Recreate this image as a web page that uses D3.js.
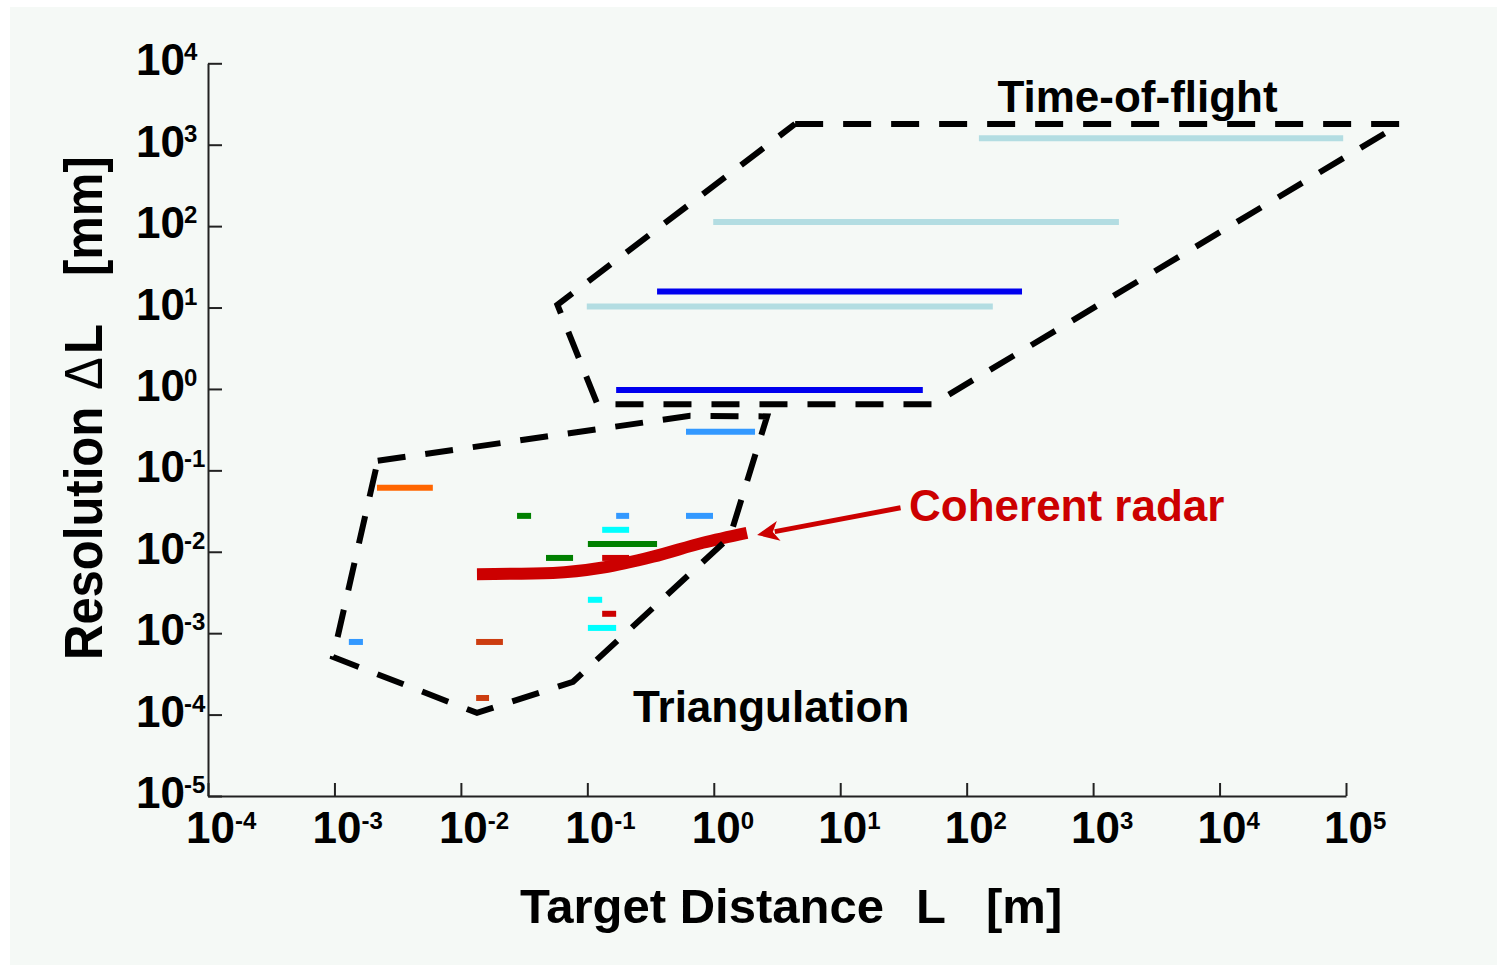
<!DOCTYPE html>
<html>
<head>
<meta charset="utf-8">
<script src="https://cdn.jsdelivr.net/npm/d3@7"></script>
<style>
  body { margin: 0; background: #fff; }
  text { font-family: 'Liberation Sans', Arial, sans-serif; }
</style>
</head>
<body>
<svg id="chart"></svg>
<script>
// Tick exponents (decades)
const xExponents = [-4, -3, -2, -1, 0, 1, 2, 3, 4, 5];
const yExponents = [4, 3, 2, 1, 0, -1, -2, -3, -4, -5];

// Region outlines, [L (m), dL (mm)]
const timeOfFlightRegion = [[4.4, 1800], [2.7e5, 1800], [54, 0.65], [0.12, 0.65], [0.058, 10.8], [4.4, 1800]];
const triangulationRegion = [[2.2e-3, 0.131], [0.65, 0.467], [2.64, 0.46], [1.34, 0.0152], [0.077, 2.53e-4],
  [0.0134, 1.05e-4], [9.75e-4, 5.1e-4], [2.2e-3, 0.131]];

// Measurement ranges, [Lmin, Lmax, dL, group]
const tofRanges = [
  [125, 9.5e4, 1200, 'tofLight'],
  [0.99, 1600, 112, 'tofLight'],
  [0.356, 274, 15.7, 'tofBlue'],
  [0.099, 161, 10.3, 'tofLight'],
  [0.169, 45, 0.97, 'tofBlue'],
];
const triangulationRanges = [
  [0.603, 2.12, 0.297, 'triBlue'],
  [2.17e-3, 6.0e-3, 0.061, 'triOrange'],
  [0.0278, 0.0359, 0.0276, 'triGreen'],
  [0.169, 0.214, 0.0276, 'triBlue'],
  [0.603, 0.986, 0.0276, 'triBlue'],
  [0.131, 0.214, 0.0186, 'triCyan'],
  [0.101, 0.356, 0.0125, 'triGreen'],
  [0.0471, 0.0771, 0.0084, 'triGreen'],
  [0.131, 0.214, 0.0084, 'triRed'],
  [0.101, 0.131, 0.00257, 'triCyan'],
  [0.131, 0.169, 0.00173, 'triRed'],
  [0.101, 0.169, 0.00116, 'triCyan'],
  [1.30e-3, 1.68e-3, 7.8e-4, 'triBlue'],
  [0.0132, 0.0215, 7.8e-4, 'triRust'],
  [0.0132, 0.0167, 1.6e-4, 'triRust'],
];

// Coherent radar curve, [L (m), dL (mm)]
const radarCurve = [[0.0134, 0.0053], [0.0536, 0.0055], [0.133, 0.0064], [0.33, 0.0087], [0.82, 0.0129], [1.83, 0.0171]];

const groups = ['tofLight', 'tofBlue', 'triBlue', 'triOrange', 'triGreen', 'triCyan', 'triRed', 'triRust'];
const groupColors = ['#b3dde2', '#0000ee', '#3399ff', '#ff6600', '#008000', '#00ffff', '#cc0000', '#cc3d10'];

const width = 1507, height = 970;
const color = d3.scaleOrdinal(groups, groupColors);
const x = d3.scaleLog().domain([1e-4, 1e5]).range([208, 1346]);
const y = d3.scaleLog().domain([1e-5, 1e4]).range([796, 63.3]);

const svg = d3.select('#chart')
  .attr('width', width)
  .attr('height', height)
  .attr('viewBox', [0, 0, width, height]);

// Background panel
svg.append('rect').attr('width', width).attr('height', height).attr('fill', '#fff');
svg.append('rect')
  .attr('x', 10).attr('y', 7)
  .attr('width', 1487).attr('height', 958)
  .attr('fill', '#f5f9f6');

// Axes (inward ticks, labels drawn separately)
const axisStyle = g => g
  .call(g => g.selectAll('.domain, .tick line').attr('stroke', '#222').attr('stroke-width', 2));

svg.append('g')
  .attr('transform', `translate(0,${y(1e-5)})`)
  .call(d3.axisBottom(x).tickValues(xExponents.map(e => Math.pow(10, e)))
    .tickSizeInner(-13).tickSizeOuter(0).tickFormat(''))
  .call(axisStyle);

svg.append('g')
  .attr('transform', `translate(${x(1e-4)},0)`)
  .call(d3.axisLeft(y).tickValues(yExponents.map(e => Math.pow(10, e)))
    .tickSizeInner(-14).tickSizeOuter(0).tickFormat(''))
  .call(axisStyle);

// Tick labels: 10 with superscript exponent
const xLabels = svg.append('g').attr('font-weight', 'bold').attr('fill', '#000');
xExponents.forEach(e => {
  const px = x(Math.pow(10, e));
  const t = xLabels.append('text')
    .attr('transform', `translate(${px - 22},843)`)
    .attr('font-size', 44);
  t.append('tspan').text('10');
  t.append('tspan').attr('font-size', 24).attr('dy', -14).text(String(e));
});

const yLabels = svg.append('g').attr('font-weight', 'bold').attr('fill', '#000');
yExponents.forEach(e => {
  const py = y(Math.pow(10, e));
  yLabels.append('text')
    .attr('x', 185).attr('y', py + 12)
    .attr('text-anchor', 'end')
    .attr('font-size', 44)
    .text('10');
  yLabels.append('text')
    .attr('x', 184).attr('y', py - 3)
    .attr('font-size', 24)
    .text(String(e));
});

// Axis titles
const xTitle = svg.append('text')
  .attr('y', 923)
  .attr('font-size', 49)
  .attr('font-weight', 'bold');
xTitle.append('tspan').attr('x', 520).text('Target Distance');
xTitle.append('tspan').attr('x', 916).text('L');
xTitle.append('tspan').attr('x', 986).text('[m]');

const yTitle = svg.append('text')
  .attr('transform', 'translate(102,660) rotate(-90) scale(1,1.08)')
  .attr('font-size', 49)
  .attr('font-weight', 'bold');
yTitle.append('tspan').attr('x', 0).text('Resolution');
yTitle.append('tspan').attr('x', 270).attr('font-weight', 'normal').text('\u0394');
yTitle.append('tspan').attr('x', 306).text('L');
yTitle.append('tspan').attr('x', 384).text('[mm]');

// Measurement ranges
svg.append('g')
  .attr('stroke-width', 6)
  .selectAll('line')
  .data(tofRanges.concat(triangulationRanges))
  .join('line')
    .attr('x1', d => x(d[0]))
    .attr('x2', d => x(d[1]))
    .attr('y1', d => y(d[2]))
    .attr('y2', d => y(d[2]))
    .attr('stroke', d => color(d[3]));

// Coherent radar
const line = d3.line()
  .curve(d3.curveMonotoneX)
  .x(d => x(d[0]))
  .y(d => y(d[1]));

svg.append('path')
  .datum(radarCurve)
  .attr('d', line)
  .attr('fill', 'none')
  .attr('stroke', '#cc0000')
  .attr('stroke-width', 12)
  .attr('stroke-linecap', 'butt');

// Region outlines
svg.append('g')
  .attr('fill', 'none')
  .attr('stroke', '#000')
  .attr('stroke-width', 6)
  .attr('stroke-dasharray', '28,20')
  .selectAll('path')
  .data([timeOfFlightRegion, triangulationRegion])
  .join('path')
    .attr('d', d3.line().x(d => x(d[0])).y(d => y(d[1])));

// Arrow to the radar curve
const from = [x(30), y(0.0347)];
const tip = [x(2.2), y(0.0161)];
const ang = Math.atan2(tip[1] - from[1], tip[0] - from[0]);
const headLen = 22, headHalf = 10;
const base = [tip[0] - headLen * Math.cos(ang), tip[1] - headLen * Math.sin(ang)];
svg.append('line')
  .attr('x1', from[0]).attr('y1', from[1])
  .attr('x2', base[0] + 4 * Math.cos(ang)).attr('y2', base[1] + 4 * Math.sin(ang))
  .attr('stroke', '#cc0000')
  .attr('stroke-width', 5);
svg.append('path')
  .attr('d', `M${tip}L${base[0] - headHalf * Math.sin(ang)},${base[1] + headHalf * Math.cos(ang)}`
    + `L${base[0] + 6 * Math.cos(ang)},${base[1] + 6 * Math.sin(ang)}`
    + `L${base[0] + headHalf * Math.sin(ang)},${base[1] - headHalf * Math.cos(ang)}Z`)
  .attr('fill', '#cc0000');

// Region labels
svg.append('text')
  .attr('x', x(175)).attr('y', y(2500))
  .attr('font-size', 44).attr('font-weight', 'bold')
  .text('Time-of-flight');

svg.append('text')
  .attr('x', x(0.23)).attr('y', y(8.2e-5))
  .attr('font-size', 44).attr('font-weight', 'bold')
  .text('Triangulation');

svg.append('text')
  .attr('x', x(35)).attr('y', y(0.024))
  .attr('font-size', 44).attr('font-weight', 'bold')
  .attr('fill', '#cc0000')
  .text('Coherent radar');
</script>
</body>
</html>
